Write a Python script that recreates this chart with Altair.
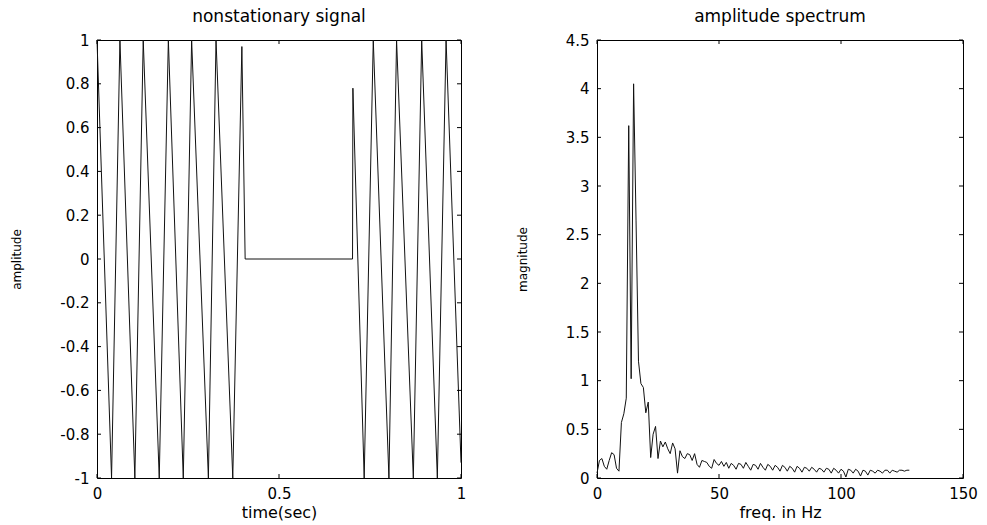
import altair as alt
import pandas as pd

# Nonstationary signal: turning points of the waveform (time in s, amplitude)
sig_time = [0.000, 0.040, 0.063, 0.104, 0.127, 0.171, 0.196, 0.237, 0.260,
            0.306, 0.327, 0.373, 0.398, 0.407, 0.702, 0.703, 0.734, 0.759,
            0.802, 0.823, 0.869, 0.892, 0.935, 0.959, 1.000]
sig_amp = [1, -1, 1, -1, 1, -1, 1, -1, 1,
           -1, 1, -1, 0.97, 0, 0, 0.78, -1, 1,
           -1, 1, -1, 1, -1, 1, -0.93]

# Amplitude spectrum, one value per 1 Hz bin (0 .. 128 Hz)
spec_freq = list(range(0, 129))
spec_mag = [
    0.05, 0.18, 0.20, 0.12, 0.09, 0.18, 0.26, 0.24, 0.10, 0.07,
    0.57, 0.66, 0.82, 3.62, 1.02, 4.05, 2.65, 1.20, 0.97, 0.93,
    0.67, 0.78, 0.21, 0.45, 0.53, 0.20, 0.38, 0.32, 0.37, 0.30,
    0.25, 0.36, 0.30, 0.05, 0.28, 0.22, 0.20, 0.25, 0.24, 0.18,
    0.25, 0.14, 0.11, 0.18, 0.17, 0.16, 0.12, 0.10, 0.19, 0.15,
    0.13, 0.17, 0.12, 0.16, 0.10, 0.15, 0.13, 0.09, 0.15, 0.14,
    0.10, 0.16, 0.12, 0.08, 0.14, 0.13, 0.09, 0.15, 0.11, 0.08,
    0.14, 0.12, 0.08, 0.13, 0.11, 0.07, 0.13, 0.11, 0.07, 0.12,
    0.10, 0.06, 0.12, 0.10, 0.06, 0.11, 0.10, 0.07, 0.11, 0.09,
    0.06, 0.10, 0.09, 0.06, 0.10, 0.09, 0.05, 0.10, 0.08, 0.05,
    0.09, 0.07, 0.01, 0.09, 0.08, 0.05, 0.09, 0.07, 0.02, 0.08,
    0.07, 0.03, 0.08, 0.07, 0.05, 0.08, 0.07, 0.05, 0.08, 0.08,
    0.05, 0.08, 0.07, 0.06, 0.08, 0.08, 0.07, 0.08, 0.08,
]

# Tick positions
sig_yticks = [-1, -0.8, -0.6, -0.4, -0.2, 0, 0.2, 0.4, 0.6, 0.8, 1]
sig_xticks = [0, 0.5, 1]
spec_yticks = [0, 0.5, 1, 1.5, 2, 2.5, 3, 3.5, 4, 4.5]
spec_xticks = [0, 50, 100, 150]

FONT = "DejaVu Sans"
TICK = 4  # inward tick length in px


def panel(df, xf, yf, xdom, ydom, xticks, yticks, title, xtitle, ytitle,
          w, h, ytitle_pad):
    xs = alt.Scale(domain=xdom, nice=False, zero=False)
    ys = alt.Scale(domain=ydom, nice=False, zero=False)
    minus = "replace(datum.label, '\u2212', '-')"
    xaxis = alt.Axis(values=xticks, title=xtitle, ticks=False, domain=False,
                     grid=False, format="~r", labelExpr=minus,
                     labelPadding=8, titlePadding=3, labelFlush=False)
    yaxis = alt.Axis(values=yticks, title=ytitle, ticks=False, domain=False,
                     grid=False, format="~r", labelExpr=minus,
                     labelPadding=8, titlePadding=ytitle_pad,
                     titleFontSize=12, labelFlush=False)

    line = alt.Chart(df).mark_line(color="#111111", strokeWidth=1).encode(
        x=alt.X(f"{xf}:Q", scale=xs, axis=xaxis),
        y=alt.Y(f"{yf}:Q", scale=ys, axis=yaxis),
        order=f"{xf}:Q",
    )

    ydf = pd.DataFrame({"yt": yticks})
    xdf = pd.DataFrame({"xt": xticks})
    yl = alt.Chart(ydf).mark_rule(color="black").encode(
        y=alt.Y("yt:Q", scale=ys, axis=yaxis),
        x=alt.value(0), x2=alt.value(TICK))
    yr = alt.Chart(ydf).mark_rule(color="black").encode(
        y=alt.Y("yt:Q", scale=ys, axis=yaxis),
        x=alt.value(w - TICK), x2=alt.value(w))
    xb = alt.Chart(xdf).mark_rule(color="black").encode(
        x=alt.X("xt:Q", scale=xs, axis=xaxis),
        y=alt.value(h - TICK), y2=alt.value(h))
    xt = alt.Chart(xdf).mark_rule(color="black").encode(
        x=alt.X("xt:Q", scale=xs, axis=xaxis),
        y=alt.value(0), y2=alt.value(TICK))

    return alt.layer(line, yl, yr, xb, xt).properties(
        width=w, height=h,
        title=alt.TitleParams(title, fontSize=17, font=FONT,
                              fontWeight="normal", offset=7),
    )


sig_df = pd.DataFrame({"t": sig_time, "a": sig_amp})
spec_df = pd.DataFrame({"f": spec_freq, "m": spec_mag})

left = panel(sig_df, "t", "a", [0, 1], [-1, 1], sig_xticks, sig_yticks,
             "nonstationary signal", "time(sec)", "amplitude", 364, 438, 36)
right = panel(spec_df, "f", "m", [0, 150], [0, 4.5], spec_xticks, spec_yticks,
              "amplitude spectrum", "freq. in Hz", "magnitude", 366, 438, 36)

chart = (
    alt.hconcat(left, right, spacing=136, bounds="flush")
    .properties(padding={"left": 10, "top": 7, "right": 5, "bottom": 0},
                background="white")
    .configure_view(stroke="black", strokeWidth=1)
    .configure_axis(labelFont=FONT, labelFontSize=15, labelColor="black",
                    titleFont=FONT, titleFontSize=16, titleColor="black",
                    titleFontWeight="normal")
)

chart.save("out.html", embed_options={"renderer": "svg", "actions": False})
